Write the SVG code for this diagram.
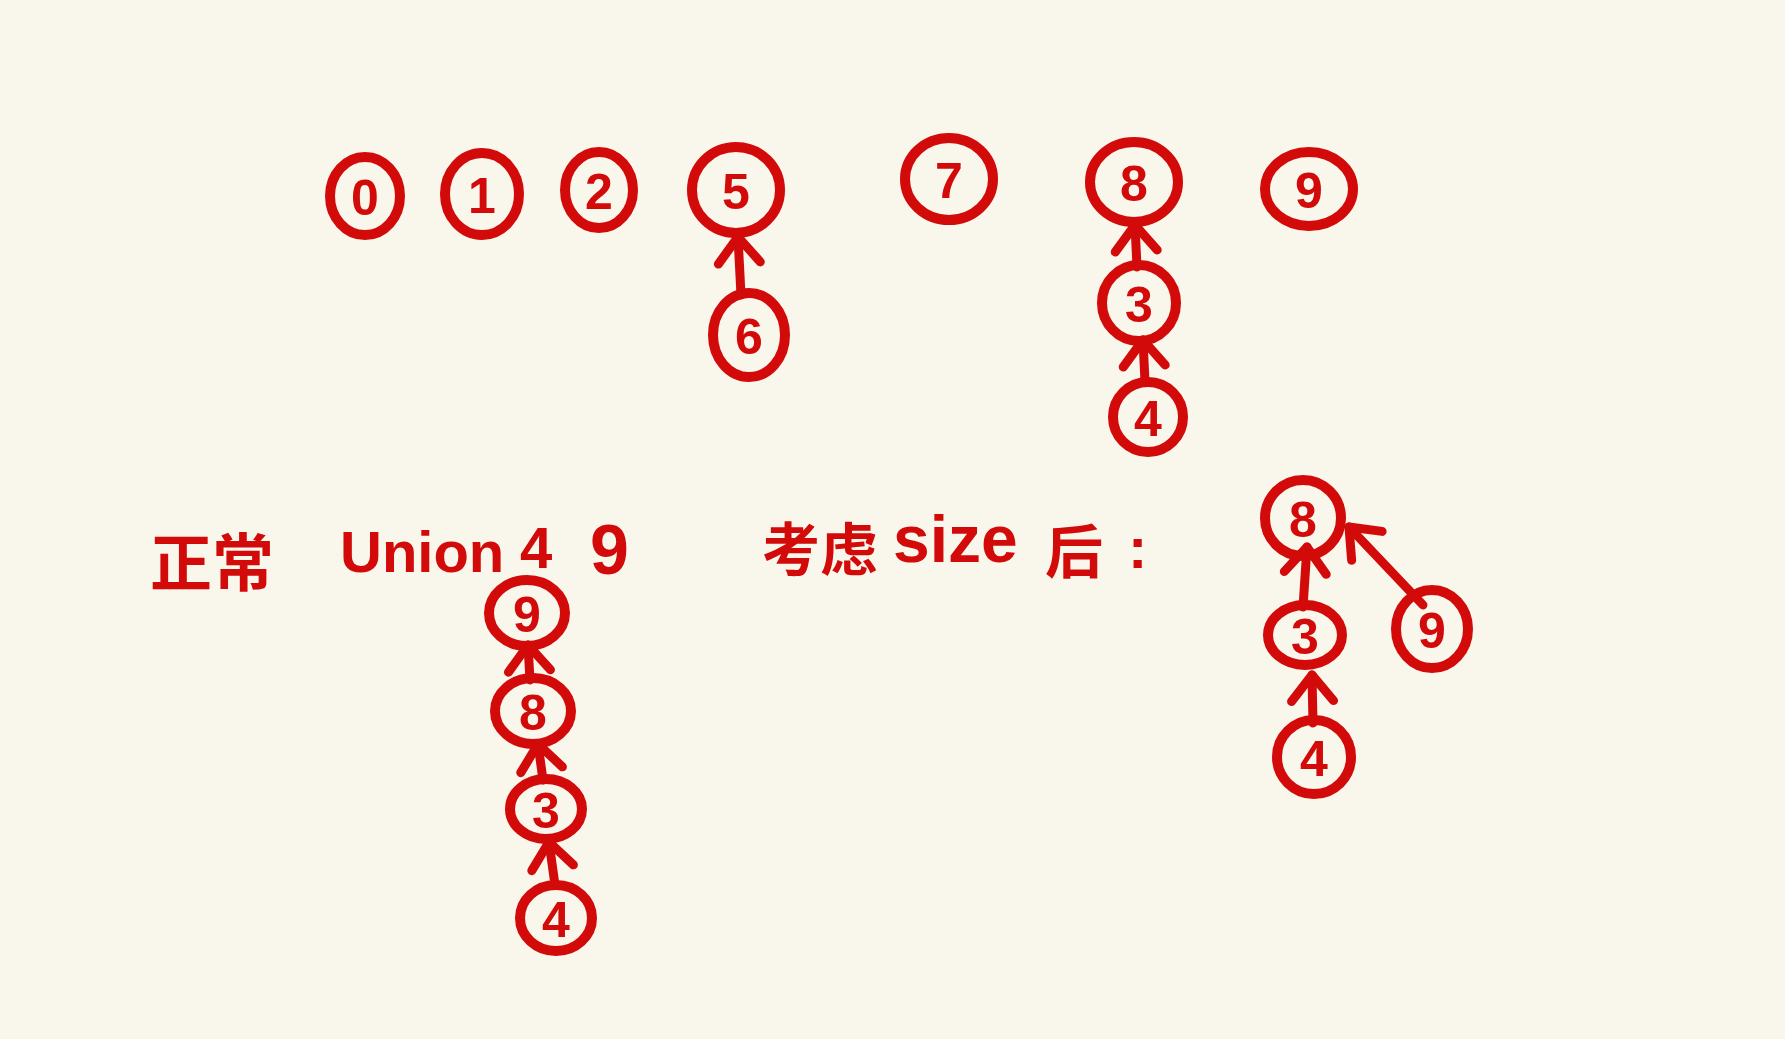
<svg xmlns="http://www.w3.org/2000/svg" width="1785" height="1039" viewBox="0 0 1785 1039">
<style>
.n ellipse{fill:none;stroke:#D20A0A;stroke-width:10}
.n text{font-family:"Liberation Sans","DejaVu Sans",sans-serif;font-weight:bold;font-size:50px;fill:#D20A0A;text-anchor:middle;dominant-baseline:central}
.e line{stroke:#D20A0A;stroke-width:9;stroke-linecap:round;marker-end:url(#a)}
.t{font-family:"Liberation Sans","Noto Sans CJK SC",sans-serif;font-weight:bold;fill:#D20A0A}
</style>
<defs>
<marker id="a" markerUnits="userSpaceOnUse" markerWidth="60" markerHeight="60" viewBox="-35 -30 45 60" refX="0" refY="0" orient="auto" overflow="visible">
<path d="M -26 -21 L 0 0 L -26 21" fill="none" stroke="#D20A0A" stroke-width="9" stroke-linecap="round" stroke-linejoin="round"/>
</marker>
</defs>
<rect width="1785" height="1039" fill="#F9F6EB"/>
<g class="e">
<line x1="741" y1="295" x2="738" y2="237"/>
<line x1="1137" y1="267" x2="1135" y2="225"/>
<line x1="1145" y1="382" x2="1143" y2="340"/>
<line x1="530" y1="680" x2="528" y2="645"/>
<line x1="543" y1="780" x2="538" y2="744"/>
<line x1="555" y1="885" x2="549" y2="842"/>
<line x1="1303" y1="607" x2="1307" y2="547"/>
<line x1="1313" y1="723" x2="1312" y2="675"/>
<line x1="1423" y1="605" x2="1349" y2="527"/>
</g>
<g class="n" id="n0"><ellipse cx="365" cy="196" rx="35" ry="39"/><text x="365" y="198">0</text></g>
<g class="n" id="n1"><ellipse cx="482" cy="194" rx="37" ry="41"/><text x="482" y="196">1</text></g>
<g class="n" id="n2"><ellipse cx="599" cy="190" rx="34" ry="38"/><text x="599" y="192">2</text></g>
<g class="n" id="n5"><ellipse cx="736" cy="190" rx="44" ry="43"/><text x="736" y="192">5</text></g>
<g class="n" id="n6"><ellipse cx="749" cy="335" rx="36" ry="42"/><text x="749" y="337">6</text></g>
<g class="n" id="n7"><ellipse cx="949" cy="179" rx="44" ry="41"/><text x="949" y="181">7</text></g>
<g class="n" id="n8"><ellipse cx="1134" cy="182" rx="44" ry="40"/><text x="1134" y="184">8</text></g>
<g class="n" id="n9"><ellipse cx="1309" cy="189" rx="44" ry="37"/><text x="1309" y="191">9</text></g>
<g class="n" id="n3"><ellipse cx="1139" cy="303" rx="37" ry="38"/><text x="1139" y="305">3</text></g>
<g class="n" id="n4"><ellipse cx="1148" cy="417" rx="35" ry="35"/><text x="1148" y="419">4</text></g>
<g class="n" id="a9"><ellipse cx="527" cy="613" rx="38" ry="33"/><text x="527" y="615">9</text></g>
<g class="n" id="a8"><ellipse cx="533" cy="711" rx="38" ry="33"/><text x="533" y="713">8</text></g>
<g class="n" id="a3"><ellipse cx="546" cy="809" rx="36" ry="30"/><text x="546" y="811">3</text></g>
<g class="n" id="a4"><ellipse cx="556" cy="918" rx="36" ry="33"/><text x="556" y="920">4</text></g>
<g class="n" id="b8"><ellipse cx="1303" cy="518" rx="38" ry="38"/><text x="1303" y="520">8</text></g>
<g class="n" id="b3"><ellipse cx="1305" cy="635" rx="37" ry="30"/><text x="1305" y="637">3</text></g>
<g class="n" id="b4"><ellipse cx="1314" cy="757" rx="37" ry="37"/><text x="1314" y="759">4</text></g>
<g class="n" id="b9"><ellipse cx="1432" cy="629" rx="36" ry="39"/><text x="1432" y="631">9</text></g>
<text class="t" font-size="62"><tspan x="150" y="586">正常</tspan><tspan x="340" y="572" font-size="58">Union</tspan><tspan x="520" y="568" font-size="58">4</tspan><tspan x="590" y="574" font-size="70">9</tspan></text>
<text class="t" font-size="58"><tspan x="762" y="571">考虑</tspan><tspan x="893" y="562" font-size="66">size</tspan><tspan x="1045" y="573">后</tspan><tspan x="1128" y="568">:</tspan></text>
</svg>
